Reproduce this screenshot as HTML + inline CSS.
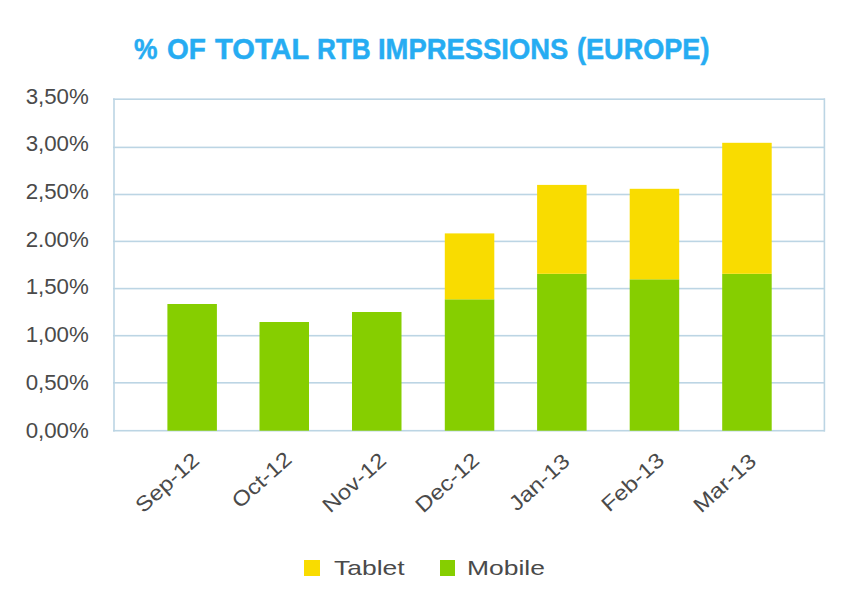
<!DOCTYPE html>
<html><head><meta charset="utf-8">
<style>
html,body{margin:0;padding:0;background:#fff;}
body{width:860px;height:594px;position:relative;overflow:hidden;font-family:"Liberation Sans",sans-serif;}
.t{position:absolute;white-space:nowrap;line-height:1;}
.tw{position:absolute;top:34px;font-size:30px;font-weight:bold;color:#26acf2;-webkit-text-stroke:0.5px #26acf2;line-height:1;white-space:nowrap;transform-origin:0 50%;}
.yl{position:absolute;right:771px;font-size:22.5px;color:#4a4a4a;line-height:1;white-space:nowrap;transform-origin:100% 50%;transform:scaleX(0.99);}
.xl{position:absolute;font-size:21px;color:#4a4a4a;line-height:1;white-space:nowrap;transform-origin:100% 50%;transform:rotate(-42deg) scaleX(1.14);}
.sw{position:absolute;width:15.5px;height:15.5px;top:560px;}
.lg{position:absolute;font-size:21px;color:#4a4a4a;line-height:1;white-space:nowrap;top:557px;transform-origin:0 50%;transform:scaleX(1.26);}
svg{position:absolute;left:0;top:0;}
</style></head>
<body>
<svg width="860" height="594" viewBox="0 0 860 594" shape-rendering="geometricPrecision">
<g fill="#bcd5e4">
<rect x="113" y="98.4" width="712" height="1.6"/>
<rect x="113" y="146.6" width="712" height="1.6"/>
<rect x="113" y="193.7" width="712" height="1.6"/>
<rect x="113" y="240.6" width="712" height="1.6"/>
<rect x="113" y="287.8" width="712" height="1.6"/>
<rect x="113" y="334.9" width="712" height="1.6"/>
<rect x="113" y="382.0" width="712" height="1.6"/>
<rect x="113" y="429.9" width="712" height="1.6"/>
<rect x="113.2" y="98.4" width="1.6" height="333.1"/>
<rect x="823.6" y="98.4" width="1.6" height="333.1"/>
</g>
<g fill="#86ce00">
<rect x="167.4" y="304" width="49.5" height="126.7"/>
<rect x="259.5" y="322" width="49.5" height="108.7"/>
<rect x="352" y="312" width="49.5" height="118.7"/>
<rect x="444.8" y="299.3" width="49.5" height="131.4"/>
<rect x="537.1" y="273.8" width="49.5" height="156.9"/>
<rect x="629.7" y="279.3" width="49.5" height="151.4"/>
<rect x="722.2" y="273.8" width="49.5" height="156.9"/>
</g>
<g fill="#f9dc00">
<rect x="444.8" y="233.4" width="49.5" height="65.9"/>
<rect x="537.1" y="184.9" width="49.5" height="88.9"/>
<rect x="629.7" y="188.8" width="49.5" height="90.5"/>
<rect x="722.2" y="142.8" width="49.5" height="131"/>
</g>
</svg>
<div class="tw" style="left:134.3px;transform:scaleX(0.880)">%</div>
<div class="tw" style="left:166.8px;transform:scaleX(0.933)">OF</div>
<div class="tw" style="left:214.8px;transform:scaleX(0.970)">TOTAL</div>
<div class="tw" style="left:316.7px;transform:scaleX(0.872)">RTB</div>
<div class="tw" style="left:377.6px;transform:scaleX(0.913)">IMPRESSIONS</div>
<div class="tw" style="left:576.9px;transform:scaleX(0.903)">(EUROPE)</div>
<div class="yl" style="top:85.6px">3,50%</div>
<div class="yl" style="top:133.3px">3,00%</div>
<div class="yl" style="top:181.0px">2,50%</div>
<div class="yl" style="top:228.7px">2.00%</div>
<div class="yl" style="top:276.4px">1,50%</div>
<div class="yl" style="top:324.1px">1,00%</div>
<div class="yl" style="top:371.8px">0,50%</div>
<div class="yl" style="top:419.5px">0,00%</div>
<div class="xl" style="right:664.4px;top:445.75px">Sep-12</div>
<div class="xl" style="right:571.75px;top:445.2px">Oct-12</div>
<div class="xl" style="right:477.3px;top:446.2px">Nov-12</div>
<div class="xl" style="right:384.5px;top:445.55px">Dec-12</div>
<div class="xl" style="right:293.45px;top:446.75px">Jan-13</div>
<div class="xl" style="right:199.85px;top:446.05px">Feb-13</div>
<div class="xl" style="right:107.7px;top:447.3px">Mar-13</div>
<div class="sw" style="left:304px;background:#f9dc00"></div>
<div class="lg" style="left:334px">Tablet</div>
<div class="sw" style="left:439.5px;background:#86ce00"></div>
<div class="lg" style="left:467px">Mobile</div>
</body></html>
